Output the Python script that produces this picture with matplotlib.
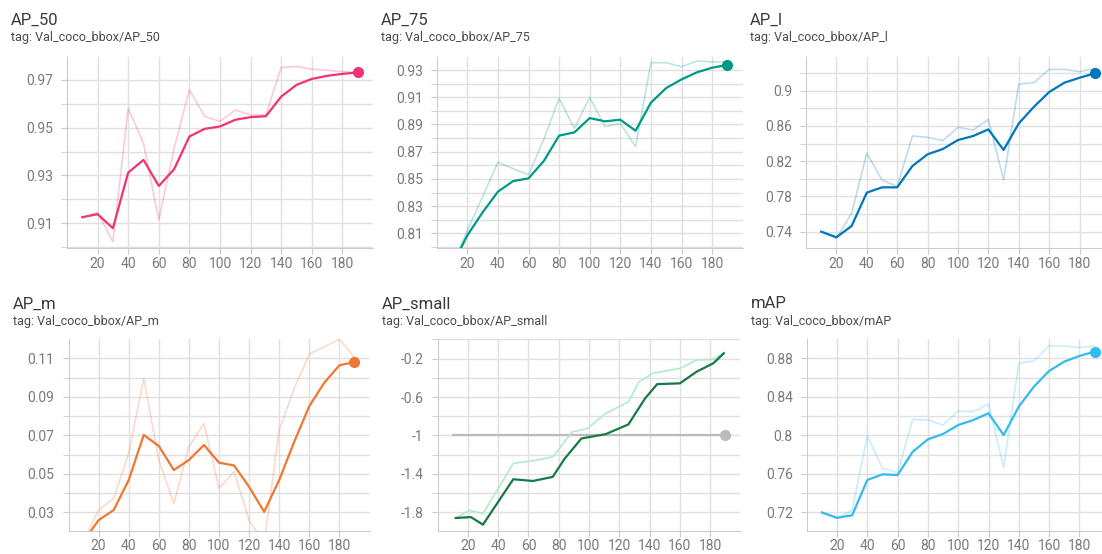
import matplotlib
matplotlib.use('Agg')
import matplotlib.pyplot as plt
from matplotlib.ticker import MultipleLocator

plt.rcParams['font.family'] = ['Roboto', 'DejaVu Sans']

# ---- data ----
steps = [10, 20, 30, 40, 50, 60, 70, 80, 90, 100, 110, 120, 130, 140, 150, 160, 170, 180, 190]

ap50_raw = [0.9125, 0.9145, 0.9023, 0.9581, 0.9435, 0.9114, 0.9414, 0.9658, 0.9547, 0.9526,
            0.9574, 0.9553, 0.9553, 0.9752, 0.9756, 0.9745, 0.9740, 0.9735, 0.9731]
ap50_smooth = [0.9125, 0.9138, 0.9079, 0.9312, 0.9365, 0.9256, 0.9326, 0.9463, 0.9495, 0.9505,
               0.9533, 0.9544, 0.9548, 0.9630, 0.9679, 0.9704, 0.9717, 0.9725, 0.9731]

ap75_raw = [0.786, 0.812, 0.837, 0.8622, 0.8575, 0.853, 0.879, 0.9092, 0.8871, 0.9099,
            0.8884, 0.8908, 0.8737, 0.9354, 0.9354, 0.9324, 0.9366, 0.936, 0.936]
ap75_smooth = [0.786, 0.8085, 0.8254, 0.8406, 0.8484, 0.8504, 0.8631, 0.8818, 0.8842, 0.8947,
               0.8923, 0.8935, 0.8854, 0.906, 0.9168, 0.9231, 0.9283, 0.9317, 0.9337]

apl_raw = [0.74, 0.7325, 0.7608, 0.8289, 0.7987, 0.7911, 0.8486, 0.8471, 0.8433, 0.8584,
           0.8554, 0.8675, 0.7987, 0.9076, 0.9091, 0.9242, 0.9242, 0.9216, 0.9254]
apl_smooth = [0.74, 0.7336, 0.7464, 0.7843, 0.7903, 0.7903, 0.8145, 0.8278, 0.8338, 0.844,
              0.8486, 0.8561, 0.8327, 0.8629, 0.8818, 0.8985, 0.9091, 0.9147, 0.9197]

apm_raw = [0.015, 0.0312, 0.0373, 0.0606, 0.0996, 0.0572, 0.0347, 0.0641, 0.0762, 0.0425,
           0.0512, 0.026, 0.014, 0.0728, 0.0944, 0.1122, 0.1161, 0.1199, 0.1105]
apm_smooth = [0.015, 0.026, 0.0312, 0.0468, 0.0702, 0.0645, 0.052, 0.0572, 0.065, 0.0558,
              0.0544, 0.0433, 0.0303, 0.0468, 0.0667, 0.0852, 0.0974, 0.1064, 0.1081]

# AP_small: flat -1 run plus a second (green) run
small_ref_steps = [10, 190]
small_ref = [-1, -1]
small_raw_steps = [12, 21, 30, 50, 63, 76, 89, 99, 111, 126, 133, 142, 160, 171, 182, 189]
small_raw = [-1.858, -1.778, -1.8125, -1.29, -1.264, -1.223, -0.963, -0.927, -0.771, -0.65,
             -0.442, -0.354, -0.302, -0.216, -0.208, -0.139]
small_smooth_steps = [12, 22, 30, 50, 63, 76, 84, 95, 111, 126, 137, 145, 160, 171, 182, 189]
small_smooth = [-1.858, -1.848, -1.927, -1.455, -1.473, -1.431, -1.24, -1.031, -0.986, -0.885,
                -0.615, -0.466, -0.458, -0.337, -0.25, -0.146]

map_raw = [0.7195, 0.7138, 0.7224, 0.7993, 0.7657, 0.7612, 0.8166, 0.8159, 0.8107, 0.8253,
           0.8246, 0.8326, 0.7668, 0.8748, 0.8772, 0.8928, 0.8928, 0.8911, 0.8928]
map_smooth = [0.72, 0.7144, 0.717, 0.7536, 0.7595, 0.7588, 0.783, 0.7958, 0.8014, 0.8107,
              0.8159, 0.8229, 0.8003, 0.8298, 0.8506, 0.8668, 0.8765, 0.8824, 0.8869]

xticks = [20, 40, 60, 80, 100, 120, 140, 160, 180]
ap50_yticks = [0.91, 0.93, 0.95, 0.97]
ap75_yticks = [0.81, 0.83, 0.85, 0.87, 0.89, 0.91, 0.93]
apl_yticks = [0.74, 0.78, 0.82, 0.86, 0.9]
apm_yticks = [0.03, 0.05, 0.07, 0.09, 0.11]
small_yticks = [-1.8, -1.4, -1, -0.6, -0.2]
map_yticks = [0.72, 0.76, 0.8, 0.84, 0.88]

W, H = 1102, 554
GRID = '#e0e0e0'
TICK_TXT = '#7a7a7a'


def make_axes(fig, left, top, bottom, width):
    # pixel box -> figure fraction
    return fig.add_axes([left / W, 1 - bottom / H, width / W, (bottom - top) / H])


def style_axes(ax, ylim, yticks, minor_step):
    ax.set_xlim(0, 200)
    ax.set_ylim(*ylim)
    ax.set_xticks(xticks)
    ax.set_xticklabels([str(t) for t in xticks])
    ax.set_yticks(yticks)
    ax.set_yticklabels(['%g' % t for t in yticks])
    ax.yaxis.set_minor_locator(MultipleLocator(minor_step))
    ax.grid(True, which='both', color=GRID, linewidth=1.0)
    ax.set_axisbelow(True)
    for side in ['top', 'right']:
        ax.spines[side].set_visible(False)
    for side in ['left', 'bottom']:
        ax.spines[side].set_color('#cccccc')
    ax.tick_params(which='both', length=4, color='#cccccc', labelcolor=TICK_TXT,
                   labelsize=10)
    ax.tick_params(axis='y', pad=6)
    ax.tick_params(axis='x', pad=2)
    ax.tick_params(which='minor', labelleft=False)
    ax.patch.set_alpha(0)


def draw_run(ax, x_raw, raw, x_sm, sm, color, light=None, dot=True):
    if light is None:
        ax.plot(x_raw, raw, color=color, alpha=0.26, linewidth=1.2, zorder=2)
    else:
        ax.plot(x_raw, raw, color=light, linewidth=1.2, zorder=2)
    ax.plot(x_sm, sm, color=color, linewidth=1.6, zorder=3)
    if dot:
        ax.plot(x_sm[-1], sm[-1], 'o', color=color, markersize=7, zorder=4, clip_on=False)


def add_title(fig, x, y, name):
    fig.text(x / W, 1 - y / H, name, fontsize=12, color='#3a3a3a', va='center', ha='left')
    fig.text(x / W, 1 - (y + 18) / H, 'tag: Val_coco_bbox/' + name, fontsize=9,
             color='#4a4a4a', va='center', ha='left')


fig = plt.figure(figsize=(W / 100, H / 100), dpi=100)

# row 1
ax1 = make_axes(fig, 67, 56.7, 248.3, 306)
style_axes(ax1, (0.8995, 0.9797), ap50_yticks, 0.01)
draw_run(ax1, steps, ap50_raw, steps, ap50_smooth, '#ee3377')
add_title(fig, 11, 20, 'AP_50')

ax2 = make_axes(fig, 436.7, 56.7, 248.3, 306)
style_axes(ax2, (0.799, 0.9398), ap75_yticks, 0.01)
draw_run(ax2, steps, ap75_raw, steps, ap75_smooth, '#009988')
add_title(fig, 381, 20, 'AP_75')

ax3 = make_axes(fig, 806, 56.7, 248.3, 304)
style_axes(ax3, (0.7211, 0.9386), apl_yticks, 0.02)
draw_run(ax3, steps, apl_raw, steps, apl_smooth, '#0077bb')
add_title(fig, 750, 20, 'AP_l')

# row 2
ax4 = make_axes(fig, 68.5, 339.3, 530.7, 301)
style_axes(ax4, (0.0205, 0.1199), apm_yticks, 0.01)
draw_run(ax4, steps, apm_raw, steps, apm_smooth, '#ee7733')
add_title(fig, 13, 304, 'AP_m')

ax5 = make_axes(fig, 437.5, 339.3, 530.7, 303)
style_axes(ax5, (-1.99, 0.0), small_yticks, 0.2)
ax5.plot(small_ref_steps, small_ref, color='#bbbbbb', linewidth=1.6, zorder=2)
ax5.plot(small_ref_steps[-1], small_ref[-1], 'o', color='#bbbbbb', markersize=7, zorder=4)
draw_run(ax5, small_raw_steps, small_raw, small_smooth_steps, small_smooth, '#177a45',
         light='#b2ebc9', dot=False)
add_title(fig, 382, 304, 'AP_small')

ax6 = make_axes(fig, 806.7, 339.3, 530.7, 303)
style_axes(ax6, (0.701, 0.8997), map_yticks, 0.02)
draw_run(ax6, steps, map_raw, steps, map_smooth, '#33bbee')
add_title(fig, 751, 304, 'mAP')

fig.savefig('out.png', dpi=100)
